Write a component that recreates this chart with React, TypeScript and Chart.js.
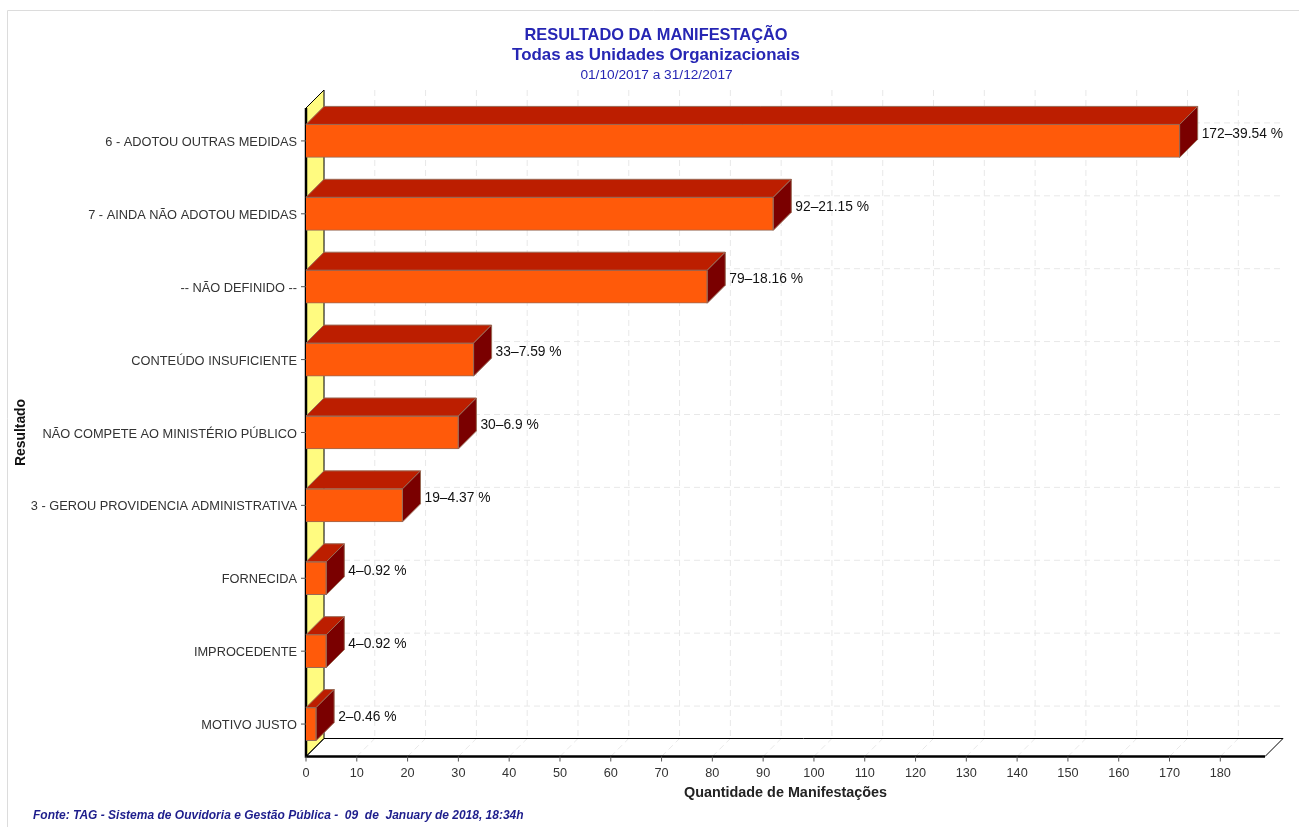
import React, { useEffect, useRef } from "react";
import { Chart, registerables } from "chart.js";

Chart.register(...registerables);

const categories = [
  "6 - ADOTOU OUTRAS MEDIDAS",
  "7 - AINDA NÃO ADOTOU MEDIDAS",
  "-- NÃO DEFINIDO --",
  "CONTEÚDO INSUFICIENTE",
  "NÃO COMPETE AO MINISTÉRIO PÚBLICO",
  "3 - GEROU PROVIDENCIA ADMINISTRATIVA",
  "FORNECIDA",
  "IMPROCEDENTE",
  "MOTIVO JUSTO",
];
const quantities = [172, 92, 79, 33, 30, 19, 4, 4, 2];
const percents = ["39.54", "21.15", "18.16", "7.59", "6.9", "4.37", "0.92", "0.92", "0.46"];
const titleText = "RESULTADO DA MANIFESTAÇÃO";
const subtitleText = "Todas as Unidades Organizacionais";
const periodText = "01/10/2017 a 31/12/2017";
const footerText = "Fonte: TAG - Sistema de Ouvidoria e Gestão Pública -  09  de  January de 2018, 18:34h";
const xTitle = "Quantidade de Manifestações";
const yTitle = "Resultado";

const FONT = '"Liberation Sans", Arial, sans-serif';
const DEPTH = 18;
const AXIS_Y = 756.5;
const WALL_TOP = 108;
const BLUE = "#2626B4";
const EDGE = "#9A6A55";

const scene = {
  id: "scene3d",
  afterLayout(chart: any) {
    // let the category labels and the axis title use the space left of the padding
    chart.scales.y.left = 13;
  },
  beforeDatasetsDraw(chart: any) {
    const { ctx, scales } = chart;
    const x = scales.x;
    const y = scales.y;
    const x0 = x.left;
    const x1 = x.right;
    ctx.save();
    // outer frame
    ctx.strokeStyle = "#dcdcdc";
    ctx.lineWidth = 1;
    ctx.beginPath();
    ctx.moveTo(7.5, 827);
    ctx.lineTo(7.5, 10.5);
    ctx.lineTo(1299, 10.5);
    ctx.stroke();

    // back grid
    ctx.strokeStyle = "#e8e8e8";
    ctx.setLineDash([6, 4]);
    x.ticks.forEach((t: any) => {
      const px = x.getPixelForValue(t.value);
      ctx.beginPath();
      ctx.moveTo(px + DEPTH, WALL_TOP - DEPTH);
      ctx.lineTo(px + DEPTH, AXIS_Y - DEPTH);
      ctx.moveTo(px, AXIS_Y);
      ctx.lineTo(px + DEPTH, AXIS_Y - DEPTH);
      ctx.stroke();
    });
    categories.forEach((_, i) => {
      const py = y.getPixelForValue(i) - DEPTH;
      ctx.beginPath();
      ctx.moveTo(x0 + DEPTH, py);
      ctx.lineTo(x1 + DEPTH, py);
      ctx.stroke();
    });
    ctx.setLineDash([]);

    // yellow wall
    ctx.fillStyle = "#FFFB80";
    ctx.strokeStyle = "#000";
    ctx.lineWidth = 1;
    ctx.beginPath();
    ctx.moveTo(x0, WALL_TOP);
    ctx.lineTo(x0 + DEPTH, WALL_TOP - DEPTH);
    ctx.lineTo(x0 + DEPTH, AXIS_Y - DEPTH);
    ctx.lineTo(x0, AXIS_Y);
    ctx.closePath();
    ctx.fill();
    ctx.stroke();

    // floor
    ctx.beginPath();
    ctx.moveTo(x0, AXIS_Y);
    ctx.lineTo(x0 + DEPTH, AXIS_Y - DEPTH);
    ctx.lineTo(x1 + DEPTH, AXIS_Y - DEPTH);
    ctx.lineTo(x1, AXIS_Y);
    ctx.closePath();
    ctx.stroke();

    // heavy axes
    ctx.lineWidth = 2.5;
    ctx.beginPath();
    ctx.moveTo(x0, WALL_TOP);
    ctx.lineTo(x0, AXIS_Y);
    ctx.lineTo(x1, AXIS_Y);
    ctx.stroke();

    // tick marks
    ctx.lineWidth = 1;
    ctx.strokeStyle = "#555";
    x.ticks.forEach((t: any) => {
      const px = x.getPixelForValue(t.value);
      ctx.beginPath();
      ctx.moveTo(px, AXIS_Y);
      ctx.lineTo(px, AXIS_Y + 5);
      ctx.stroke();
    });
    categories.forEach((_, i) => {
      const py = y.getPixelForValue(i);
      ctx.beginPath();
      ctx.moveTo(x0 - 5, py);
      ctx.lineTo(x0, py);
      ctx.stroke();
    });
    ctx.restore();
  },
  afterDatasetsDraw(chart: any) {
    const { ctx } = chart;
    const meta = chart.getDatasetMeta(0);
    ctx.save();
    meta.data.forEach((bar: any, i: number) => {
      const top = bar.y - bar.height / 2;
      const bottom = bar.y + bar.height / 2;
      const left = bar.base;
      const right = bar.x;
      ctx.strokeStyle = EDGE;
      ctx.lineWidth = 1;
      ctx.fillStyle = "#BC1E00";
      ctx.beginPath();
      ctx.moveTo(left, top);
      ctx.lineTo(left + DEPTH, top - DEPTH);
      ctx.lineTo(right + DEPTH, top - DEPTH);
      ctx.lineTo(right, top);
      ctx.closePath();
      ctx.fill();
      ctx.stroke();
      ctx.fillStyle = "#7A0000";
      ctx.beginPath();
      ctx.moveTo(right, top);
      ctx.lineTo(right + DEPTH, top - DEPTH);
      ctx.lineTo(right + DEPTH, bottom - DEPTH);
      ctx.lineTo(right, bottom);
      ctx.closePath();
      ctx.fill();
      ctx.stroke();
      ctx.fillStyle = "#111";
      ctx.font = `13.8px ${FONT}`;
      ctx.textAlign = "left";
      ctx.textBaseline = "middle";
      ctx.fillText(`${quantities[i]}–${percents[i]} %`, right + DEPTH + 4, bar.y - 7);
    });
    // period line and source
    ctx.textAlign = "center";
    ctx.textBaseline = "middle";
    ctx.fillStyle = BLUE;
    ctx.font = `13.7px ${FONT}`;
    ctx.fillText(periodText, 656.5, 75.5);
    ctx.textAlign = "left";
    ctx.fillStyle = "#1E1E8C";
    ctx.font = `italic bold 12px ${FONT}`;
    ctx.fillText(footerText, 33, 815.5);
    ctx.restore();
  },
};

export default function App() {
  const ref = useRef<HTMLCanvasElement | null>(null);
  useEffect(() => {
    document.body.style.margin = "0";
    document.body.style.overflow = "hidden";
    const chart = new Chart(ref.current as HTMLCanvasElement, {
      type: "bar",
      data: {
        labels: categories,
        datasets: [
          {
            label: "Quantidade",
            data: quantities,
            backgroundColor: "#FF5A0A",
            borderColor: EDGE,
            borderWidth: 1,
            barThickness: 33,
          },
        ],
      },
      options: {
        indexAxis: "y",
        responsive: false,
        animation: false,
        layout: { padding: { left: 47, right: 34, top: 0, bottom: 0 } },
        plugins: {
          legend: { display: false },
          tooltip: { enabled: false },
          title: {
            display: true,
            text: titleText,
            color: BLUE,
            font: { family: FONT, size: 16.4, weight: "bold" },
            padding: { top: 25.2, bottom: 0 },
          },
          subtitle: {
            display: true,
            text: subtitleText,
            color: BLUE,
            font: { family: FONT, size: 16.9, weight: "bold" },
            padding: { top: 0.6, bottom: 38.7 },
          },
        },
        scales: {
          x: {
            type: "linear",
            min: 0,
            max: 188.8,
            grid: { display: false, drawTicks: false },
            border: { display: false },
            afterBuildTicks: (s: any) => {
              s.ticks = s.ticks.filter((t: any) => t.value <= 180);
            },
            afterFit: (s: any) => {
              s.height = 66.5;
            },
            ticks: {
              stepSize: 10,
              autoSkip: false,
              includeBounds: false,
              maxRotation: 0,
              padding: 5,
              color: "#333",
              font: { family: FONT, size: 12.7 },
            },
            title: {
              display: true,
              text: xTitle,
              color: "#222",
              font: { family: FONT, size: 14.4, weight: "bold" },
              padding: { top: 0, bottom: 25 },
            },
          },
          y: {
            type: "category",
            grid: { display: false, drawTicks: false },
            border: { display: false },
            afterFit: (s: any) => {
              s.width = 306 - 47;
            },
            ticks: {
              autoSkip: false,
              padding: 9,
              labelOffset: 1.5,
              color: "#333",
              font: { family: FONT, size: 12.8 },
            },
            title: {
              display: true,
              text: yTitle,
              color: "#111",
              font: { family: FONT, size: 13.9, weight: "bold" },
              padding: { top: 0, bottom: 0 },
            },
          },
        },
      } as any,
      plugins: [scene],
    });
    return () => chart.destroy();
  }, []);
  return (
    <div style={{ position: "absolute", left: 0, top: 0, width: 1299, height: 827, background: "#fff" }}>
      <canvas ref={ref} width={1299} height={827} style={{ display: "block" }} />
    </div>
  );
}
